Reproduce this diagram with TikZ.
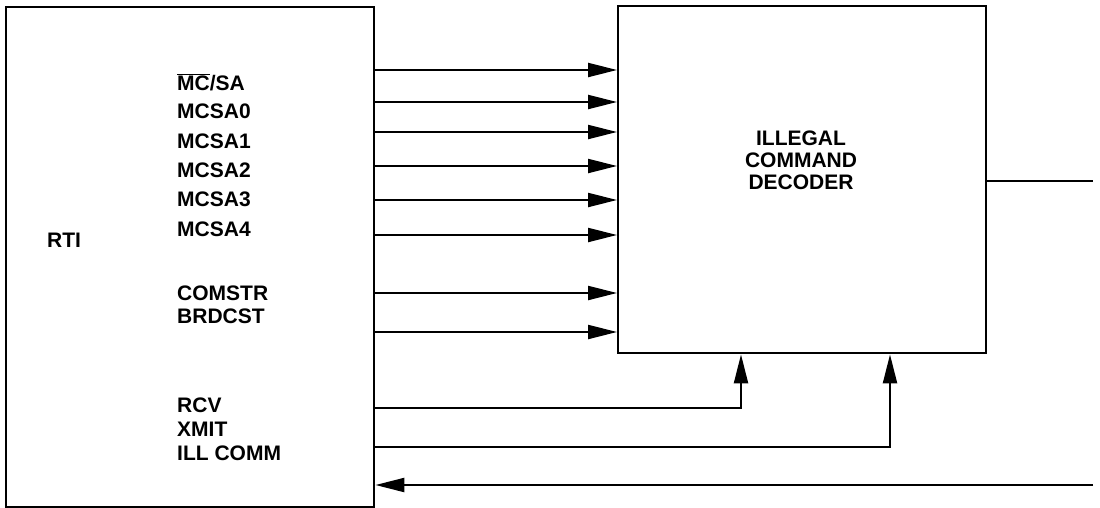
\documentclass[tikz,border=0pt]{standalone}
\usepackage{fontspec}
\setmainfont{Liberation Sans}
\usetikzlibrary{
  arrows.meta,
  positioning
}

\begin{document}
\begin{tikzpicture}[
  x = 1pt, y = -1pt,
  % ── Unit box ────────────────────────────────────────────
  unit/.style={
    rectangle,
    draw        = black,
    line width  = 2.4pt,
    fill        = white,
    inner sep   = 0pt,
    anchor      = north west
  },
  % ── Signal label ────────────────────────────────────────
  sig/.style={
    anchor      = west,
    inner sep   = 0pt,
    text height = 15pt,
    text depth  = 0pt,
    font        = \fontsize{21}{22}\selectfont\bfseries
  },
  % ── Wire / arrow ────────────────────────────────────────
  wire/.style={
    line width  = 2.2pt
  },
  arr/.style={
    wire,
    -{Triangle[length=29pt, width=14pt]}
  }
]
\useasboundingbox (0,0) rectangle (1100,507);

% ── Nodes ──────────────────────────────────────────────────
\node[unit, minimum width=368pt, minimum height=500pt] (rti) at (5,6) {};
\node[unit, minimum width=368pt, minimum height=347pt] (dec) at (617,5) {};

\node[sig] (rtilbl) at (47,240) {RTI};
\node[align=center, inner sep=0pt,
      font=\fontsize{21}{22}\selectfont\bfseries] (declbl) at (801,160)
  {ILLEGAL\\COMMAND\\DECODER};

\node[sig] (mcsa) at (177,83) {$\overline{\mbox{MC}}$/SA};
\foreach \n/\y in {0/111, 1/141, 2/170, 3/199, 4/229}
  \node[sig] (mcsa\n) at (177,\y) {MCSA\n};
\node[sig] (comstr)  at (177,293) {COMSTR};
\node[sig] (brdcst)  at (177,316) {BRDCST};
\node[sig] (rcv)     at (177,405) {RCV};
\node[sig] (xmit)    at (177,429) {XMIT};
\node[sig] (illcomm) at (177,453) {ILL COMM};

% ── Arrows into the decoder ────────────────────────────────
\foreach \y in {70, 102, 132, 166, 200, 235, 293, 332}
  \draw[arr] (rti.east |- 0,\y) -- (dec.west |- 0,\y);

\draw[arr] (rti.east |- 0,408) -| (dec.south -| 741,0);
\draw[arr] (rti.east |- 0,447) -| (dec.south -| 890,0);

% ── Output and ILL COMM return ─────────────────────────────
\coordinate (decout) at (1093,181);
\coordinate (illin)  at (1093,485);
\draw[wire] (dec.east |- decout) -- (decout);
\draw[arr] (illin) -- (rti.east |- illin);

\end{tikzpicture}
\end{document}
